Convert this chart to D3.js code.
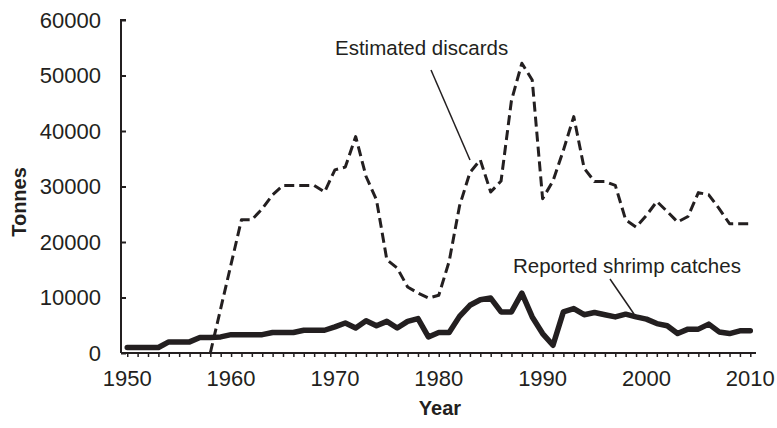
<!DOCTYPE html>
<html><head><meta charset="utf-8">
<script src="https://cdn.jsdelivr.net/npm/d3@7"></script>
<style>body{margin:0;background:#fff}svg{display:block}text{font-family:"Liberation Sans",Arial,sans-serif;fill:#231f20}</style>
</head><body><svg id="c" width="777" height="428"></svg>
<script>
const shrimpYears = d3.range(1950, 2011);
const shrimpCatches = [1000,1000,1000,1000,2000,2000,2000,2800,2800,2900,
 3300,3300,3300,3300,3700,3700,3700,4100,4100,4100,
 4700,5400,4500,5800,4900,5700,4500,5700,6200,2900,
 3700,3700,6600,8600,9600,9900,7400,7400,10800,6500,
 3500,1400,7400,8000,6900,7300,6900,6500,7000,6500,
 6100,5300,4900,3500,4300,4300,5200,3800,3500,4000,4000];
const discardYears = d3.range(1958, 2011);
const discards = [0,8000,16000,24000,24000,26000,28500,30200,30200,30200,
 30200,29000,33000,33500,39000,31800,27600,16800,15300,11900,
 10800,9900,10400,16500,26500,32500,34800,29000,31000,45500,
 52200,49200,27800,31000,36500,42600,33300,30900,30900,30200,
 24000,22700,24800,27300,25500,23600,24600,28900,28500,26000,
 23300,23300,23300];
const yTicks = [0,10000,20000,30000,40000,50000,60000];
const xTickLabels = [1950,1960,1970,1980,1990,2000,2010];
const labels = {discards:"Estimated discards", shrimp:"Reported shrimp catches", x:"Year", y:"Tonnes"};

const svg = d3.select("#c");
const ink = "#231f20";
const x = d3.scaleLinear().domain([1949.4, 2010.55]).range([121, 756]);
const y = d3.scaleLinear().domain([0, 60000]).range([353, 20]);

// y axis
const ya = svg.append("g").attr("transform","translate(121,0)")
  .call(d3.axisRight(y).tickValues(yTicks).tickSize(5).tickFormat(""));
ya.select(".domain").attr("stroke",ink).attr("stroke-width",2).attr("d","M5,20H0V353");
ya.selectAll(".tick line").attr("stroke",ink).attr("stroke-width",2);
svg.append("g").selectAll("text").data(yTicks).join("text")
  .attr("x",101).attr("y",d=>y(d)).attr("dy","0.36em").attr("text-anchor","end")
  .attr("font-size",22).text(d=>d);

// x axis
const xa = svg.append("g").attr("transform","translate(0,353)")
  .call(d3.axisBottom(x).tickValues(shrimpYears).tickSize(4).tickFormat(""));
xa.select(".domain").attr("stroke",ink).attr("stroke-width",2).attr("d","M121,0H756");
xa.selectAll(".tick line").attr("stroke",ink).attr("stroke-width",1.5);
svg.append("g").selectAll("text").data(xTickLabels).join("text")
  .attr("x",d=>x(d)).attr("y",386).attr("text-anchor","middle")
  .attr("font-size",22).text(d=>d);

// titles
svg.append("text").attr("x",440).attr("y",415).attr("text-anchor","middle")
  .attr("font-size",20).attr("font-weight","bold").text(labels.x);
svg.append("text").attr("transform","translate(26,202) rotate(-90)").attr("text-anchor","middle")
  .attr("font-size",20).attr("font-weight","bold").text(labels.y);

// lines
const line = d3.line().x(d=>x(d[0])).y(d=>y(d[1]));
svg.append("path").datum(discardYears.map((yr,i)=>[yr,discards[i]]))
  .attr("d",line).attr("fill","none").attr("stroke",ink).attr("stroke-width",3)
  .attr("stroke-dasharray","10,5").attr("stroke-linejoin","round");
svg.append("path").datum(shrimpYears.map((yr,i)=>[yr,shrimpCatches[i]]))
  .attr("d",line).attr("fill","none").attr("stroke",ink).attr("stroke-width",5.5)
  .attr("stroke-linejoin","round").attr("stroke-linecap","round");

// annotations
svg.append("text").attr("x",335).attr("y",55).attr("font-size",20.5).text(labels.discards);
svg.append("line").attr("x1",431).attr("y1",70).attr("x2",470).attr("y2",160)
  .attr("stroke",ink).attr("stroke-width",1.5);
svg.append("text").attr("x",513).attr("y",273).attr("font-size",20.5).text(labels.shrimp);
svg.append("line").attr("x1",610).attr("y1",279).attr("x2",634).attr("y2",314)
  .attr("stroke",ink).attr("stroke-width",1.5);
</script></body></html>
